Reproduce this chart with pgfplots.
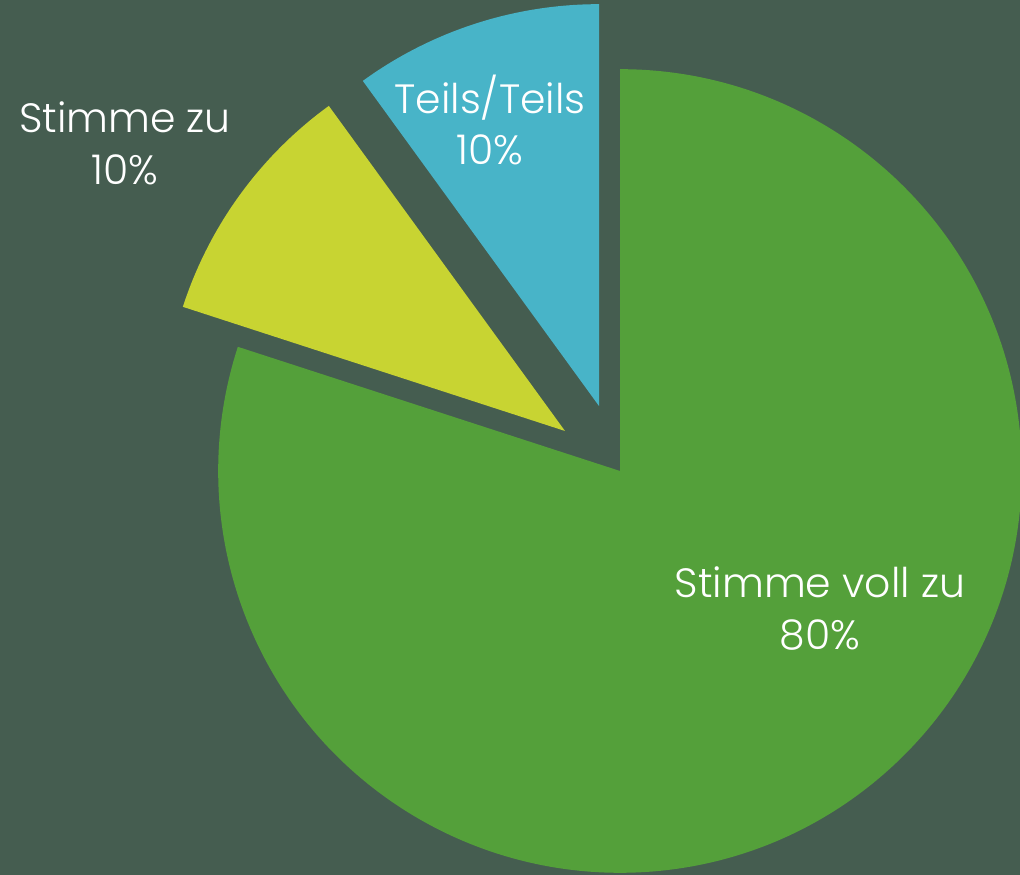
\documentclass[border=0pt]{standalone}
\usepackage{pgfplots}
\pgfplotsset{compat=1.18}
\usepackage{fontspec}
\setmainfont{Poppins}[UprightFont=* Light]
\definecolor{bgdark}{RGB}{69,93,80}
\definecolor{pgreen}{RGB}{84,160,58}
\definecolor{pyellow}{RGB}{200,212,50}
\definecolor{pteal}{RGB}{72,180,200}

% 1 px of the reference = 14cm/1020
\newcommand{\R}{5.518cm}% pie radius (402 px)
\tikzset{lbl/.style={font=\fontsize{16}{20.3}\selectfont, text=white, align=center}}

\begin{document}
\begin{tikzpicture}
\begin{axis}[
  x=0.0137255cm, y=0.0137255cm,
  xmin=0, xmax=1020, ymin=0, ymax=875,
  hide axis, clip=true,
]
\fill[bgdark] (axis cs:0,0) rectangle (axis cs:1020,875);
% values: 80, 10, 10 (%) -> 288, 36, 36 degrees, starting at 90 clockwise
% Stimme voll zu (80) : 90 -> -198, not exploded
\fill[pgreen] (axis cs:620,404) -- ++(90:\R) arc[start angle=90, end angle=-198, radius=\R] -- cycle;
% Stimme zu (10) : 162 -> 126, exploded along 144
\fill[pyellow] (axis cs:565,444) -- ++(162:\R) arc[start angle=162, end angle=126, radius=\R] -- cycle;
% Teils/Teils (10) : 126 -> 90, exploded along 108
\fill[pteal] (axis cs:599,469) -- ++(126:\R) arc[start angle=126, end angle=90, radius=\R] -- cycle;

\node[lbl] at (axis cs:490,755) {Teils/Teils\\10\%};
\node[lbl] at (axis cs:125,732) {Stimme zu\\10\%};
\node[lbl] at (axis cs:820,266) {Stimme voll zu\\80\%};
\end{axis}
\end{tikzpicture}
\end{document}
